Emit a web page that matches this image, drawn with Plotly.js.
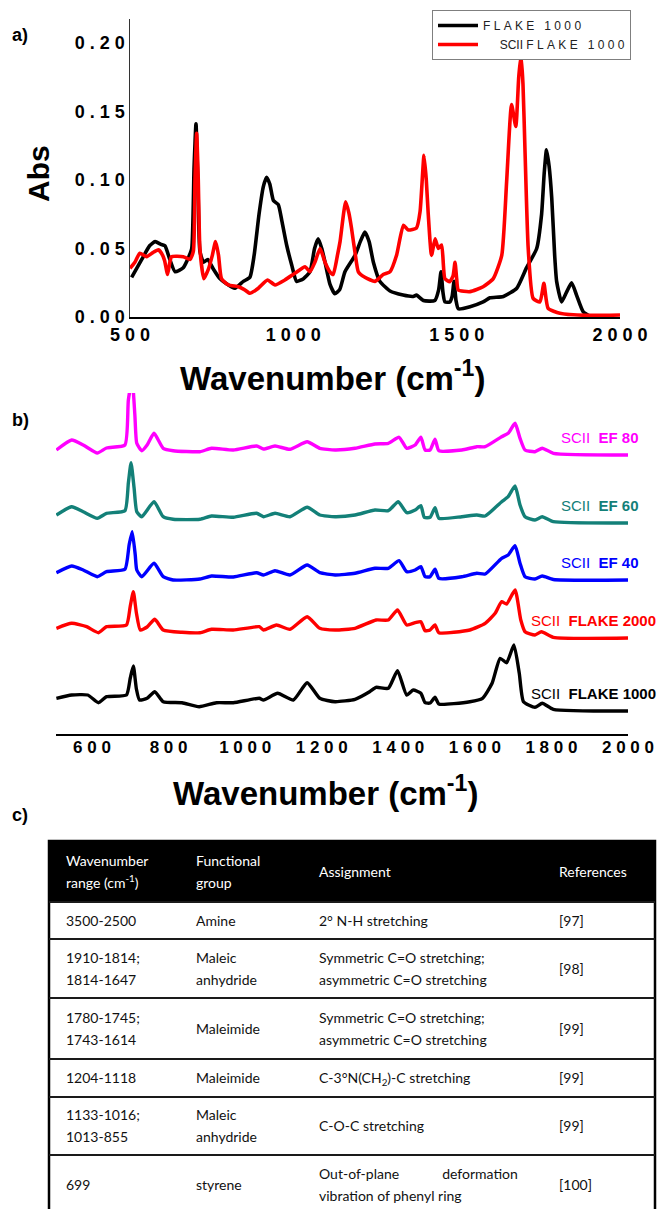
<!DOCTYPE html>
<html><head><meta charset="utf-8">
<script src="https://cdn.plot.ly/plotly-3.0.1.min.js"></script>
<style>html,body{margin:0;padding:0;background:#fff}</style>
</head><body><div id="chart" style="width:670px;height:1209px"></div>
<script>
// ---------- Panel a data ----------
const aNames = ['FLAKE 1000', 'SCII FLAKE 1000'];
const aWnBlack = [505,536,560,577,595,607,622,638,663,680,689,696,702,708,714,725,738,755,775,791,821,847,867,880,895,908,918,928,939,954,965,980,995,1010,1031,1051,1065,1076,1087,1097,1112,1127,1142,1158,1189,1205,1219,1232,1245,1265,1296,1336,1367,1377,1398,1433,1445,1452,1458,1464,1479,1486,1492,1498,1505,1541,1581,1602,1643,1684,1714,1745,1760,1768,1775,1783,1791,1800,1806,1821,1836,1852,1867,1887,1908];
const aAbsBlack = [0.029,0.042,0.052,0.055,0.053,0.052,0.042,0.033,0.036,0.044,0.050,0.108,0.141,0.095,0.048,0.040,0.042,0.035,0.028,0.025,0.021,0.026,0.029,0.045,0.075,0.095,0.102,0.097,0.085,0.082,0.070,0.052,0.038,0.026,0.028,0.033,0.050,0.057,0.050,0.040,0.024,0.017,0.020,0.033,0.045,0.055,0.062,0.055,0.040,0.026,0.019,0.016,0.015,0.016,0.012,0.012,0.020,0.033,0.018,0.011,0.011,0.015,0.026,0.012,0.006,0.0075,0.011,0.014,0.015,0.021,0.036,0.050,0.075,0.105,0.122,0.110,0.087,0.045,0.026,0.011,0.018,0.025,0.016,0.004,0.0005];
const aWnRed = [500,515,530,551,570,587,600,606,615,622,627,663,684,694,699,704,709,714,726,740,752,762,771,780,801,832,850,867,893,921,944,974,1005,1036,1051,1066,1082,1097,1112,1122,1135,1143,1160,1170,1178,1190,1199,1219,1250,1275,1296,1316,1337,1352,1377,1388,1400,1407,1413,1423,1434,1444,1454,1464,1479,1489,1495,1500,1505,1541,1581,1612,1638,1653,1668,1681,1690,1697,1703,1709,1719,1734,1755,1767,1780,1816,1898,2000];
const aAbsRed = [0.0355,0.040,0.0465,0.044,0.047,0.049,0.045,0.041,0.031,0.040,0.044,0.044,0.042,0.048,0.100,0.134,0.100,0.050,0.028,0.035,0.045,0.055,0.045,0.028,0.0234,0.0221,0.020,0.0173,0.021,0.027,0.0234,0.027,0.0319,0.0367,0.033,0.040,0.050,0.040,0.033,0.031,0.045,0.055,0.084,0.076,0.065,0.045,0.033,0.029,0.026,0.031,0.033,0.045,0.067,0.0635,0.065,0.077,0.118,0.100,0.075,0.045,0.057,0.050,0.0526,0.028,0.0258,0.030,0.040,0.028,0.0197,0.0185,0.0221,0.028,0.045,0.099,0.155,0.139,0.175,0.191,0.170,0.123,0.050,0.0136,0.011,0.0246,0.0063,0.0027,0.0012,0.0015];
const aTicksX = [500,1000,1500,2000];
const aTicksY = [0,0.05,0.10,0.15,0.20];

// ---------- Panel b data (arbitrary units, stacked) ----------
const bPrefix = 'SCII';
const bNames = ['FLAKE 1000','FLAKE 2000','EF 40','EF 60','EF 80'];
const bOffsets = [23,96,154,211,279];
const bWn1000 = [507,547,589,617,638,690,700,708,716,724,744,764,786,835,880,925,969,1037,1048,1085,1126,1162,1195,1235,1287,1325,1342,1374,1398,1422,1439,1459,1470,1483,1496,1506,1587,1620,1645,1666,1683,1702,1716,1727,1757,1776,1805,2000];
const bVal1000 = [12.7,16,16,8.3,14.3,16,33,45,22,11,12.7,19.3,9.3,8.3,4.3,8.3,8.3,12.7,11,17.7,11,28.3,12.7,9.3,11.7,19.3,23.7,22.7,40.3,16,21,17.7,8.3,8,13.7,7,9.3,12.7,27.7,52.7,48.3,66,37.7,9.3,3.7,7.7,1.7,0];
const bWn2000 = [507,547,586,617,638,690,700,708,716,726,744,764,786,835,882,912,969,1037,1048,1082,1117,1162,1195,1235,1287,1342,1374,1398,1422,1444,1459,1470,1483,1496,1506,1587,1627,1653,1670,1683,1705,1720,1731,1757,1774,1805,2000];
const bVal2000 = [9.7,14.7,11.3,5.3,11.3,13,32,46.3,25,8,11,18.7,8,5.7,5.3,8.7,8,11.3,8,13,8.7,21.3,9.7,8,9.7,18,18,28,13,15.3,16.3,7.3,8,13,5.3,8,14.7,24.7,36.3,34,48,18,6.3,3,6.3,0.7,0];
const bWnEF40 = [507,547,577,614,638,686,697,705,713,717,730,762,786,812,882,912,969,1030,1048,1078,1117,1162,1195,1235,1287,1339,1374,1402,1422,1444,1459,1470,1483,1496,1506,1566,1605,1627,1670,1687,1705,1718,1731,1757,1776,1805,2000];
const bValEF40 = [7.3,14,10,3.3,8.3,10.7,35,48.3,25,10,3.3,16.7,3.3,0,1,4,3,7.3,5,9.3,5,15,7.3,5,6.7,11.7,11.7,19.3,8.3,10,13.3,3.3,3.3,10.7,1.7,3.3,6.7,6,21.7,25,34.3,16.7,3.3,1,4,0.5,0];
const bWnEF60 = [507,547,577,614,638,686,695,702,710,717,730,762,786,812,882,912,969,1030,1048,1078,1117,1162,1195,1235,1287,1339,1374,1400,1422,1444,1459,1468,1483,1496,1506,1566,1605,1627,1670,1687,1705,1718,1731,1757,1776,1805,2000];
const bValEF60 = [8,16.3,11.3,4.7,9.7,12.3,40,60.3,35,11.3,6.3,21.3,6.3,3.7,3.7,7,5.7,9.7,6.3,9.7,6.3,15.7,8,6.3,8,13,12.3,21.3,10.3,13,17.3,5.7,5.7,15.3,4.7,6.3,8,7,21.3,26.3,37,18,6.3,3,6.3,1.3,0];
const bWnEF80 = [507,547,577,614,638,686,695,705,712,717,730,744,762,786,812,882,912,969,1030,1048,1078,1117,1162,1195,1235,1287,1339,1374,1402,1422,1444,1459,1470,1483,1496,1506,1566,1605,1627,1670,1687,1705,1718,1731,1757,1776,1805,2000];
const bValEF80 = [5,15,10,2,7,10,55,75,40,11.7,4.3,10,21.7,6.7,4.3,3.3,6.7,5,9,6,9,5.7,13.3,6.7,5,6.7,11,11.7,17.7,6.7,10,17.7,5,5,15.7,4.3,5,8.3,8.3,18.3,21.7,31.7,16.7,5,3.3,6.7,1.7,0];
const bTicksX = [600,800,1000,1200,1400,1600,1800,2000];

// ---------- Panel c table data ----------
const tblHeader = ['Wavenumber<br>range (cm<sup>-1</sup>)','Functional<br>group','Assignment','References'];
const tblRange = ['3500-2500','1910-1814;<br>1814-1647','1780-1745;<br>1743-1614','1204-1118','1133-1016;<br>1013-855','699'];
const tblGroup = ['Amine','Maleic<br>anhydride','Maleimide','Maleimide','Maleic<br>anhydride','styrene'];
const tblAssign = ['2° N-H stretching','Symmetric C=O stretching;<br>asymmetric C=O stretching','Symmetric C=O stretching;<br>asymmetric C=O stretching','C-3°N(CH<sub>2</sub>)-C stretching','C-O-C stretching','Out-of-plane\u00a0\u00a0\u00a0\u00a0\u00a0\u00a0\u00a0\u00a0\u00a0\u00a0\u00a0 deformation<br>vibration of phenyl ring'];
const tblRefs = ['[97]','[98]','[99]','[99]','[99]','[100]'];

// ---------- styles / layout constants ----------
const W = 670, H = 1209;
const boldFont = 'Liberation Sans, Arial, sans-serif';
const spaced = s => String(s).split('').join('\u00a0');
const py = p => 1 - p / H;  // pixel row -> paper fraction
const aColors = ['#000000', '#ff0000'];
const bColors = ['#000000', '#ff0000', '#0000ff', '#138078', '#ff00ff'];
const bLabelRight = [658, 658, 641, 641, 641];

const traces = [];
// panel a
const aX = [aWnBlack, aWnRed], aY = [aAbsBlack, aAbsRed];
aNames.forEach((n, i) => {
  const label = i === 0 ? spaced(n)
    : '\u00a0\u00a0\u00a0\u00a0\u00a0' + n.split(' ')[0] + '\u00a0' + spaced(n.split(' ').slice(1).join(' '));
  traces.push({x: aX[i], y: aY[i], type: 'scatter', mode: 'lines', name: label,
    line: {color: aColors[i], width: 3.6, shape: 'spline', smoothing: 0.5},
    xaxis: 'x', yaxis: 'y', showlegend: true, hoverinfo: 'skip'});
});
// panel b
const bX = [bWn1000, bWn2000, bWnEF40, bWnEF60, bWnEF80];
const bY = [bVal1000, bVal2000, bValEF40, bValEF60, bValEF80];
bNames.forEach((n, i) => {
  traces.push({x: bX[i], y: bY[i].map(v => v + bOffsets[i]), type: 'scatter', mode: 'lines', name: bPrefix + ' ' + n,
    line: {color: bColors[i], width: 3.4, shape: 'spline', smoothing: 0.5},
    xaxis: 'x2', yaxis: 'y2', showlegend: false, hoverinfo: 'skip'});
});

// table (panel c) on a pixel-scaled helper axis pair
const tblTop = 841, tblLeft = 49, tblRight = 655;
const rowH = [61, 37, 59, 61, 38, 58, 60];
const colX = [66, 196, 319, 559];
const edges = [tblTop];
rowH.forEach(h => edges.push(edges[edges.length - 1] + h));
const centers = rowH.map((h, i) => edges[i] + h / 2 + 1);
const wrapLines = s => s.split('<br>').map(l => '<span style="font-size:14px">' + l + '</span>').join('<br>');
const tblFont = 'Lato, sans-serif';
traces.push({x: colX, y: colX.map(() => centers[0]), text: tblHeader.map(wrapLines), type: 'scatter', mode: 'text',
  textposition: 'middle right', textfont: {family: tblFont, size: 17, color: '#ffffff'},
  xaxis: 'x3', yaxis: 'y3', showlegend: false, hoverinfo: 'skip', cliponaxis: false});
[tblRange, tblGroup, tblAssign, tblRefs].forEach((col, c) => {
  traces.push({x: col.map(() => colX[c]), y: col.map((_, r) => centers[r + 1]), text: col.map(wrapLines),
    type: 'scatter', mode: 'text', textposition: 'middle right', textfont: {family: tblFont, size: 17, color: '#111111'},
    xaxis: 'x3', yaxis: 'y3', showlegend: false, hoverinfo: 'skip', cliponaxis: false});
});

const shapes = [
  {type: 'rect', xref: 'x3', yref: 'y3', x0: tblLeft, x1: tblRight, y0: edges[0], y1: edges[1], fillcolor: '#000', line: {width: 0}, layer: 'below'},
  {type: 'rect', xref: 'x3', yref: 'y3', x0: tblLeft, x1: tblRight, y0: edges[0], y1: edges[edges.length - 1], fillcolor: 'rgba(0,0,0,0)', line: {color: '#000', width: 2.5}}
];
edges.slice(1, edges.length - 1).forEach(e => shapes.push({type: 'line', xref: 'x3', yref: 'y3', x0: tblLeft, x1: tblRight, y0: e, y1: e, line: {color: '#1a1a1a', width: 2.2}}));

const annotations = [
  {text: '<b>a)</b>', x: 10 / W, y: py(35), xref: 'paper', yref: 'paper', xanchor: 'left', yanchor: 'middle', showarrow: false, font: {family: boldFont, size: 18, color: '#000'}},
  {text: '<b>b)</b>', x: 10 / W, y: py(420), xref: 'paper', yref: 'paper', xanchor: 'left', yanchor: 'middle', showarrow: false, font: {family: boldFont, size: 18, color: '#000'}},
  {text: '<b>c)</b>', x: 10 / W, y: py(815), xref: 'paper', yref: 'paper', xanchor: 'left', yanchor: 'middle', showarrow: false, font: {family: boldFont, size: 18, color: '#000'}},
  {text: '<b>Abs</b>', x: 38 / W, y: py(174), xref: 'paper', yref: 'paper', xanchor: 'center', yanchor: 'middle', textangle: -90, showarrow: false, font: {family: boldFont, size: 30, color: '#000'}},
  {text: '<b>Wavenumber (cm<sup>-1</sup>)</b>', x: 332 / W, y: py(376), xref: 'paper', yref: 'paper', xanchor: 'center', yanchor: 'middle', showarrow: false, font: {family: boldFont, size: 33, color: '#000'}},
  {text: '<b>Wavenumber (cm<sup>-1</sup>)</b>', x: 325 / W, y: py(791), xref: 'paper', yref: 'paper', xanchor: 'center', yanchor: 'middle', showarrow: false, font: {family: boldFont, size: 33, color: '#000'}}
];
bNames.forEach((n, i) => {
  annotations.push({text: bPrefix + '\u00a0\u00a0<b>' + n + '</b>',
    x: bLabelRight[i] / W, xref: 'paper', y: bOffsets[i] + 18, yref: 'y2', xanchor: 'right', yanchor: 'middle',
    showarrow: false, font: {family: 'Liberation Sans, Arial, sans-serif', size: 15, color: bColors[i]}});
});

const tickFontA = {family: boldFont, size: 18, color: '#000', weight: 'bold'};
const layout = {
  width: W, height: H, autosize: false,
  margin: {l: 0, r: 0, t: 0, b: 0, pad: 0},
  paper_bgcolor: '#fff', plot_bgcolor: 'rgba(0,0,0,0)',
  showlegend: true,
  legend: {x: 432 / W, y: py(10), xanchor: 'left', yanchor: 'top', bgcolor: '#fff', bordercolor: '#7f7f7f', borderwidth: 1,
    font: {family: 'Liberation Sans, Arial, sans-serif', size: 12, color: '#222'}, itemwidth: 40, tracegroupgap: 0},
  xaxis: {domain: [130 / W, 620 / W], range: [500, 2000], anchor: 'y', showgrid: false, zeroline: false,
    showline: true, linecolor: '#000', linewidth: 2, ticks: '', tickvals: aTicksX, ticktext: aTicksX.map(spaced),
    tickfont: tickFontA, ticklabelstandoff: 0, fixedrange: true},
  yaxis: {domain: [py(317), py(19)], range: [0, 0.2175], anchor: 'x', showgrid: false, zeroline: false,
    showline: true, linecolor: '#333', linewidth: 1.5, ticks: '', tickvals: aTicksY, ticktext: aTicksY.map(v => spaced(v.toFixed(2))),
    tickfont: tickFontA, fixedrange: true},
  xaxis2: {domain: [56 / W, 628 / W], range: [506, 2000], anchor: 'y2', showgrid: false, zeroline: false,
    showline: true, linecolor: '#000', linewidth: 2, ticks: '', tickvals: bTicksX, ticktext: bTicksX.map(spaced),
    tickfont: {family: boldFont, size: 17, color: '#000', weight: 'bold'}, ticklabelstandoff: -3, fixedrange: true},
  yaxis2: {domain: [py(734), py(393)], range: [0, 341], anchor: 'x2', visible: false, fixedrange: true},
  xaxis3: {domain: [0, 1], range: [0, W], anchor: 'y3', visible: false, fixedrange: true},
  yaxis3: {domain: [0, py(830)], range: [H, 830], anchor: 'x3', visible: false, fixedrange: true},
  shapes: shapes,
  annotations: annotations
};
Plotly.newPlot('chart', traces, layout, {displayModeBar: false, staticPlot: true});
</script></body></html>
